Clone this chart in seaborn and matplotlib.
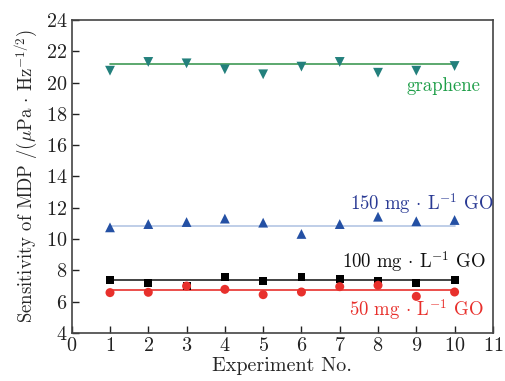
import numpy as np
import pandas as pd
import seaborn as sns
from matplotlib import pyplot as plt

# valores
experimento = [1, 2, 3, 4, 5, 6, 7, 8, 9, 10]
grafeno = [20.76, 21.32, 21.23, 20.85, 20.53, 21.02, 21.32, 20.63, 20.76, 21.06]
go_150 = [10.75, 10.96, 11.09, 11.31, 11.05, 10.33, 10.96, 11.43, 11.14, 11.22]
go_100 = [7.37, 7.17, 7.0, 7.56, 7.32, 7.58, 7.45, 7.30, 7.21, 7.39]
go_50 = [6.58, 6.60, 7.0, 6.79, 6.45, 6.62, 6.96, 7.05, 6.34, 6.62]
# nivel das linhas horizontais
nivel = {'grafeno': 21.17, '150': 10.86, '100': 7.37, '50': 6.73}

sns.set_style("ticks")
plt.rcParams['font.family'] = ['cmr10', 'DejaVu Serif']
plt.rcParams['mathtext.fontset'] = 'cm'
plt.rcParams['axes.formatter.use_mathtext'] = True

fig = plt.figure(figsize=(5.05, 3.81), dpi=100)
ax = fig.add_axes([0.142, 0.126, 0.834, 0.8215])

series = [
    (grafeno, nivel['grafeno'], 'v', '#23807c', '#3f9a55', 50),
    (go_150, nivel['150'], '^', '#2450a4', '#b4c6e4', 50),
    (go_100, nivel['100'], 's', '#000000', '#222222', 32),
    (go_50, nivel['50'], 'o', '#e8302c', '#e8302c', 42),
]
for vals, lv, mk, cor, cor_linha, tam in series:
    sns.lineplot(x=[experimento[0], experimento[-1]], y=[lv, lv], color=cor_linha, lw=1.2, ax=ax)
    sns.scatterplot(x=experimento, y=vals, marker=mk, color=cor, s=tam, edgecolor='none', ax=ax, zorder=3)

fs = 13.5
ax.text(9.72, 19.78, 'graphene', color='#1e9e48', fontsize=fs, ha='center', va='center')
ax.text(9.16, 12.3, r'150 mg $\boldsymbol{\cdot}$ L$^{-1}$ GO', color='#2a3a94', fontsize=fs, ha='center', va='center')
ax.text(8.94, 8.56, r'100 mg $\boldsymbol{\cdot}$ L$^{-1}$ GO', color='#111111', fontsize=fs, ha='center', va='center')
ax.text(9.0, 5.53, r'50 mg $\boldsymbol{\cdot}$ L$^{-1}$ GO', color='#e8302c', fontsize=fs, ha='center', va='center')

ax.set_xlim(0, 11)
ax.set_ylim(4, 24)
ax.set_xticks(range(0, 12))
ax.set_yticks(range(4, 25, 2))
ax.tick_params(direction='in', length=5, width=1, labelsize=14.5, colors='#222222', pad=3)
ax.set_xlabel('Experiment No.', fontsize=14.5, labelpad=1)
ax.set_ylabel(r'Sensitivity of MDP /($\mu$Pa $\boldsymbol{\cdot}$ Hz$^{-1/2}$)', fontsize=13.5, labelpad=4)
for sp in ax.spines.values():
    sp.set_color('#444444')
    sp.set_linewidth(1.2)

plt.savefig('out.png', dpi=100)
